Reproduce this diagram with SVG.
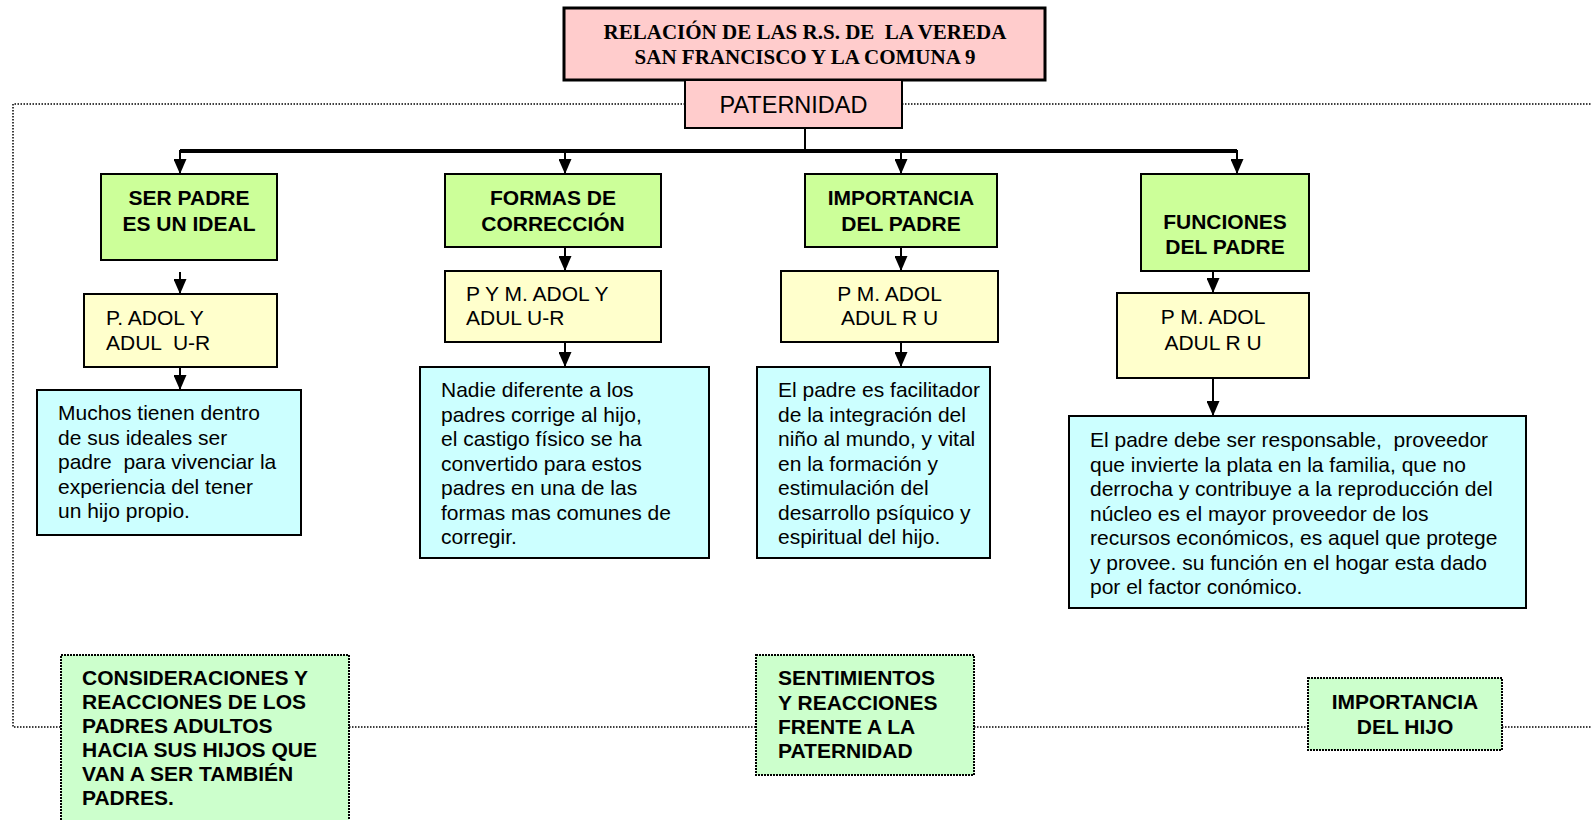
<svg xmlns="http://www.w3.org/2000/svg" width="1592" height="820" viewBox="0 0 1592 820">
<style>
.t{font-family:"Liberation Sans",Arial,sans-serif;font-size:21px;fill:#000;white-space:pre}
.b{font-weight:bold}
.c{text-anchor:middle}
.title{font-family:"Liberation Serif","Times New Roman",serif;font-size:21px;font-weight:bold;text-anchor:middle;white-space:pre}
.pink{fill:#ffcccc;stroke:#000;stroke-width:2}
.green{fill:#ccff99;stroke:#000;stroke-width:2}
.yellow{fill:#ffffcc;stroke:#000;stroke-width:2}
.blue{fill:#ccffff;stroke:#000;stroke-width:2}
.lgreen{fill:#ccffcc;stroke:#000;stroke-width:2;stroke-dasharray:2 1}
.arr{stroke:#000;stroke-width:2;fill:none;marker-end:url(#ah)}
.dot{stroke:#000;stroke-width:1.5;stroke-dasharray:1.5 1.5;fill:none}
</style>
<defs>
<marker id="ah" viewBox="0 0 15 13" markerWidth="15" markerHeight="13" markerUnits="userSpaceOnUse" refX="15" refY="6.5" orient="auto">
<path d="M0,0 L15,6.5 L0,13 z" fill="#000"/>
</marker>
</defs>
<g id="connectors">
<path class="dot" d="M685,104 H13 V727 H61 M349,727 H756 M974,727 H1308 M1502,727 H1592 M902,104 H1592"/>
<path d="M805,128 V151" stroke="#000" stroke-width="2" fill="none"/>
<path d="M180,151 H1237" stroke="#000" stroke-width="4" fill="none"/>
<path class="arr" d="M180,150 V174"/>
<path class="arr" d="M565,150 V174"/>
<path class="arr" d="M901,150 V174"/>
<path class="arr" d="M1237,150 V174"/>
<path class="arr" d="M180,272 V294"/>
<path class="arr" d="M180,367 V390"/>
<path class="arr" d="M565,247 V271"/>
<path class="arr" d="M565,342 V367"/>
<path class="arr" d="M901,247 V271"/>
<path class="arr" d="M901,342 V367"/>
<path class="arr" d="M1213,271 V293"/>
<path class="arr" d="M1213,367 V416"/>
</g>
<g id="title">
<rect class="pink" x="564" y="8" width="481" height="72" style="stroke-width:3"/>
<text class="title" x="805" y="39">RELACIÓN DE LAS R.S. DE  LA VEREDA</text>
<text class="title" x="805" y="64">SAN FRANCISCO Y LA COMUNA 9</text>
</g>
<g id="paternidad">
<rect class="pink" x="685" y="80" width="217" height="48"/>
<text class="t c" x="793.5" y="113" style="font-size:23.5px">PATERNIDAD</text>
</g>
<g id="ser-padre">
<rect class="green" x="101" y="174" width="176" height="86"/>
<text class="t b c" x="189" y="205">SER PADRE</text>
<text class="t b c" x="189" y="231">ES UN IDEAL</text>
</g>
<g id="ser-padre-sujetos">
<rect class="yellow" x="84" y="294" width="193" height="73"/>
<text class="t" x="106" y="325">P. ADOL Y</text>
<text class="t" x="106" y="350">ADUL  U-R</text>
</g>
<g id="ser-padre-texto">
<rect class="blue" x="37" y="390" width="264" height="145"/>
<text class="t" x="58" y="420">Muchos tienen dentro</text>
<text class="t" x="58" y="444.5">de sus ideales ser</text>
<text class="t" x="58" y="469">padre  para vivenciar la</text>
<text class="t" x="58" y="493.5">experiencia del tener</text>
<text class="t" x="58" y="518">un hijo propio.</text>
</g>
<g id="formas">
<rect class="green" x="445" y="174" width="216" height="73"/>
<text class="t b c" x="553" y="205">FORMAS DE</text>
<text class="t b c" x="553" y="231">CORRECCIÓN</text>
</g>
<g id="formas-sujetos">
<rect class="yellow" x="445" y="271" width="216" height="71"/>
<text class="t" x="466" y="301">P Y M. ADOL Y</text>
<text class="t" x="466" y="325">ADUL U-R</text>
</g>
<g id="formas-texto">
<rect class="blue" x="420" y="367" width="289" height="191"/>
<text class="t" x="441" y="397">Nadie diferente a los</text>
<text class="t" x="441" y="421.5">padres corrige al hijo,</text>
<text class="t" x="441" y="446">el castigo físico se ha</text>
<text class="t" x="441" y="470.5">convertido para estos</text>
<text class="t" x="441" y="495">padres en una de las</text>
<text class="t" x="441" y="519.5">formas mas comunes de</text>
<text class="t" x="441" y="544">corregir.</text>
</g>
<g id="importancia">
<rect class="green" x="805" y="174" width="192" height="73"/>
<text class="t b c" x="901" y="205">IMPORTANCIA</text>
<text class="t b c" x="901" y="231">DEL PADRE</text>
</g>
<g id="importancia-sujetos">
<rect class="yellow" x="781" y="271" width="217" height="71"/>
<text class="t c" x="889.5" y="301">P M. ADOL</text>
<text class="t c" x="889.5" y="325">ADUL R U</text>
</g>
<g id="importancia-texto">
<rect class="blue" x="757" y="367" width="233" height="191"/>
<text class="t" x="778" y="397">El padre es facilitador</text>
<text class="t" x="778" y="421.5">de la integración del</text>
<text class="t" x="778" y="446">niño al mundo, y vital</text>
<text class="t" x="778" y="470.5">en la formación y</text>
<text class="t" x="778" y="495">estimulación del</text>
<text class="t" x="778" y="519.5">desarrollo psíquico y</text>
<text class="t" x="778" y="544">espiritual del hijo.</text>
</g>
<g id="funciones">
<rect class="green" x="1141" y="174" width="168" height="97"/>
<text class="t b c" x="1225" y="229">FUNCIONES</text>
<text class="t b c" x="1225" y="254">DEL PADRE</text>
</g>
<g id="funciones-sujetos">
<rect class="yellow" x="1117" y="293" width="192" height="85"/>
<text class="t c" x="1213" y="324">P M. ADOL</text>
<text class="t c" x="1213" y="350">ADUL R U</text>
</g>
<g id="funciones-texto">
<rect class="blue" x="1069" y="416" width="457" height="192"/>
<text class="t" x="1090" y="447">El padre debe ser responsable,  proveedor</text>
<text class="t" x="1090" y="471.5">que invierte la plata en la familia, que no</text>
<text class="t" x="1090" y="496">derrocha y contribuye a la reproducción del</text>
<text class="t" x="1090" y="520.5">núcleo es el mayor proveedor de los</text>
<text class="t" x="1090" y="545">recursos económicos, es aquel que protege</text>
<text class="t" x="1090" y="569.5">y provee. su función en el hogar esta dado</text>
<text class="t" x="1090" y="594">por el factor conómico.</text>
</g>
<g id="consideraciones">
<rect class="lgreen" x="61" y="655" width="288" height="180"/>
<text class="t b" x="82" y="685">CONSIDERACIONES Y</text>
<text class="t b" x="82" y="709">REACCIONES DE LOS</text>
<text class="t b" x="82" y="733">PADRES ADULTOS</text>
<text class="t b" x="82" y="757">HACIA SUS HIJOS QUE</text>
<text class="t b" x="82" y="781">VAN A SER TAMBIÉN</text>
<text class="t b" x="82" y="805">PADRES.</text>
</g>
<g id="sentimientos">
<rect class="lgreen" x="756" y="655" width="218" height="120"/>
<text class="t b" x="778" y="685">SENTIMIENTOS</text>
<text class="t b" x="778" y="709.5">Y REACCIONES</text>
<text class="t b" x="778" y="734">FRENTE A LA</text>
<text class="t b" x="778" y="758">PATERNIDAD</text>
</g>
<g id="importancia-hijo">
<rect class="lgreen" x="1308" y="678" width="194" height="72"/>
<text class="t b c" x="1405" y="709">IMPORTANCIA</text>
<text class="t b c" x="1405" y="734">DEL HIJO</text>
</g>
</svg>
